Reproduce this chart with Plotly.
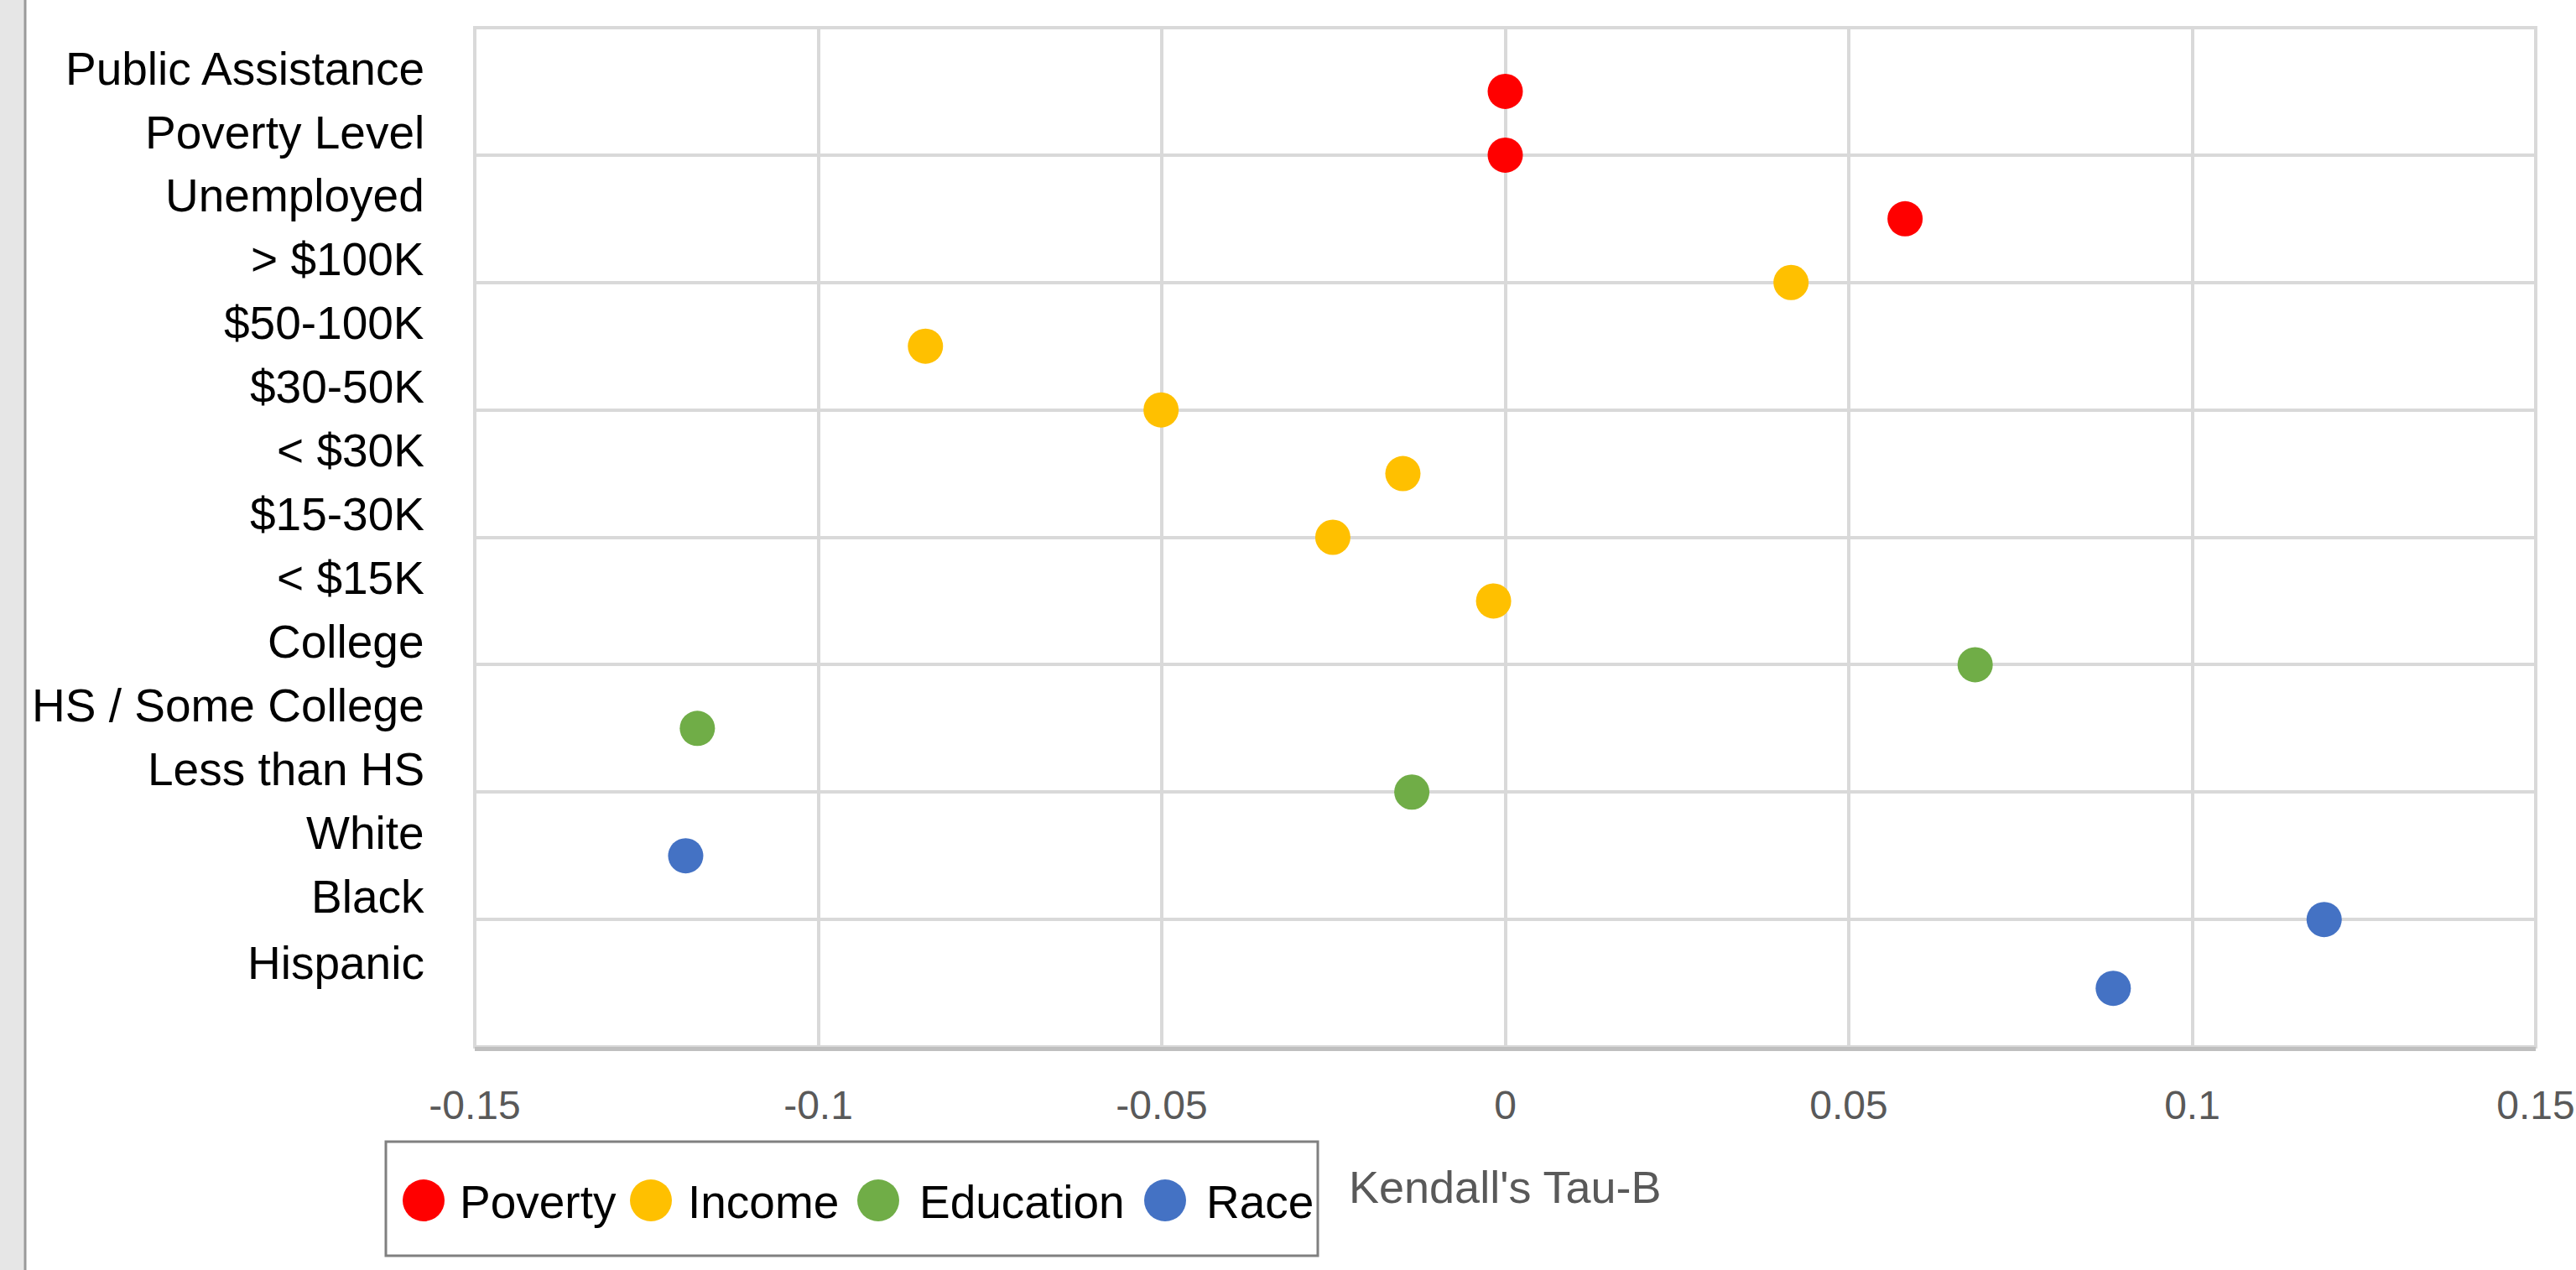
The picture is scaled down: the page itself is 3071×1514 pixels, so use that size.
import plotly.graph_objects as go

# ---------------- data ----------------
categories = ["Public Assistance", "Poverty Level", "Unemployed",
              "> $100K", "$50-100K", "$30-50K", "< $30K", "$15-30K", "< $15K",
              "College", "HS / Some College", "Less than HS",
              "White", "Black", "Hispanic"]
slots = [15, 14, 13, 12, 11, 10, 9, 8, 7, 6, 5, 4, 3, 2, 1]

poverty_y = [15, 14, 13]
poverty_x = [0.000, 0.000, 0.0582]

income_y = [12, 11, 10, 9, 8, 7]
income_x = [0.0416, -0.0844, -0.0501, -0.0149, -0.0251, -0.0017]

education_y = [6, 5, 4]
education_x = [0.0684, -0.1176, -0.0136]

race_y = [3, 2, 0.92]
race_x = [-0.1193, 0.1192, 0.0885]

series_names = ["Poverty", "Income", "Education", "Race"]
series_colors = ["#FF0000", "#FFC000", "#70AD47", "#4472C4"]

x_ticks = [-0.15, -0.1, -0.05, 0, 0.05, 0.1, 0.15]
x_tick_text = ["-0.15", "-0.1", "-0.05", "0", "0.05", "0.1", "0.15"]
x_title = "Kendall's Tau-B"

# ---------------- layout geometry (pixels) ----------------
W, H = 3071, 1514
PL, PR, PT, PB = 566, 3023, 33, 1248
FONT = "Liberation Sans"


def px(xp):
    return (xp - PL) / (PR - PL)


def py(yp):
    return (PB - yp) / (PB - PT)


fig = go.Figure()
all_series = [(poverty_x, poverty_y), (income_x, income_y),
              (education_x, education_y), (race_x, race_y)]
for (xs, ys), name, col in zip(all_series, series_names, series_colors):
    fig.add_trace(go.Scatter(x=xs, y=ys, mode="markers", name=name,
                             marker=dict(size=42, color=col, line=dict(width=0)),
                             showlegend=False))

annotations = []
# category labels on the left
for cat, s in zip(categories, slots):
    yy = s + 0.36 if s > 1 else 1.32
    annotations.append(dict(text=cat, xref="paper", yref="y", x=px(508), y=yy,
                            xanchor="right", yanchor="middle", showarrow=False,
                            font=dict(family=FONT, size=55, color="#000000")))
# axis title
annotations.append(dict(text=x_title, xref="paper", yref="paper", x=0.5, y=py(1415),
                        xanchor="center", yanchor="middle", showarrow=False,
                        font=dict(family=FONT, size=54, color="#595959")))

shapes = []
# left grey strip of the window
shapes.append(dict(type="rect", xref="paper", yref="paper", x0=px(0), x1=px(29),
                   y0=py(H), y1=py(0), fillcolor="#e6e6e6", line=dict(width=0), layer="below"))
shapes.append(dict(type="line", xref="paper", yref="paper", x0=px(30), x1=px(30),
                   y0=py(H), y1=py(0), line=dict(color="#9a9a9a", width=3)))
# plot border
shapes.append(dict(type="rect", xref="paper", yref="paper", x0=0, x1=1, y0=0, y1=1,
                   line=dict(color="#d9d9d9", width=4), layer="below"))

# custom legend
shapes.append(dict(type="rect", xref="paper", yref="paper", x0=px(460), x1=px(1571),
                   y0=py(1497), y1=py(1361), line=dict(color="#808080", width=3),
                   fillcolor="#ffffff"))
leg_marker_x = [505, 776, 1047, 1389]
leg_text_x = [546, 818, 1094, 1436]
leg_y = 1431
r = 25
for name, col, mx, tx in zip(series_names, series_colors, leg_marker_x, leg_text_x):
    shapes.append(dict(type="circle", xref="paper", yref="paper",
                       x0=px(mx - r), x1=px(mx + r), y0=py(leg_y + r), y1=py(leg_y - r),
                       fillcolor=col, line=dict(width=0)))
    annotations.append(dict(text=name, xref="paper", yref="paper", x=px(tx), y=py(1433),
                            xanchor="left", yanchor="middle", showarrow=False,
                            font=dict(family=FONT, size=55, color="#000000")))

fig.update_layout(
    template="none",
    width=W, height=H,
    margin=dict(l=PL, r=W - PR, t=PT, b=H - PB, pad=0, autoexpand=False),
    paper_bgcolor="#ffffff", plot_bgcolor="#ffffff",
    font=dict(family=FONT),
    xaxis=dict(range=[-0.15, 0.15], tickvals=x_ticks, ticktext=x_tick_text,
               automargin=False,
               showgrid=True, gridcolor="#d9d9d9", gridwidth=4, zeroline=False,
               showline=True, linecolor="#bfbfbf", linewidth=5,
               ticks="outside", ticklen=23, tickcolor="rgba(0,0,0,0)",
               tickfont=dict(family=FONT, size=48, color="#595959"),
               fixedrange=True),
    yaxis=dict(range=[0, 16], dtick=2, tick0=0, showgrid=True, gridcolor="#d9d9d9",
               automargin=False,
               gridwidth=4, zeroline=False, showticklabels=False, showline=False,
               ticks="", fixedrange=True),
    shapes=shapes, annotations=annotations,
    showlegend=False,
)

fig.write_html("out.html")
